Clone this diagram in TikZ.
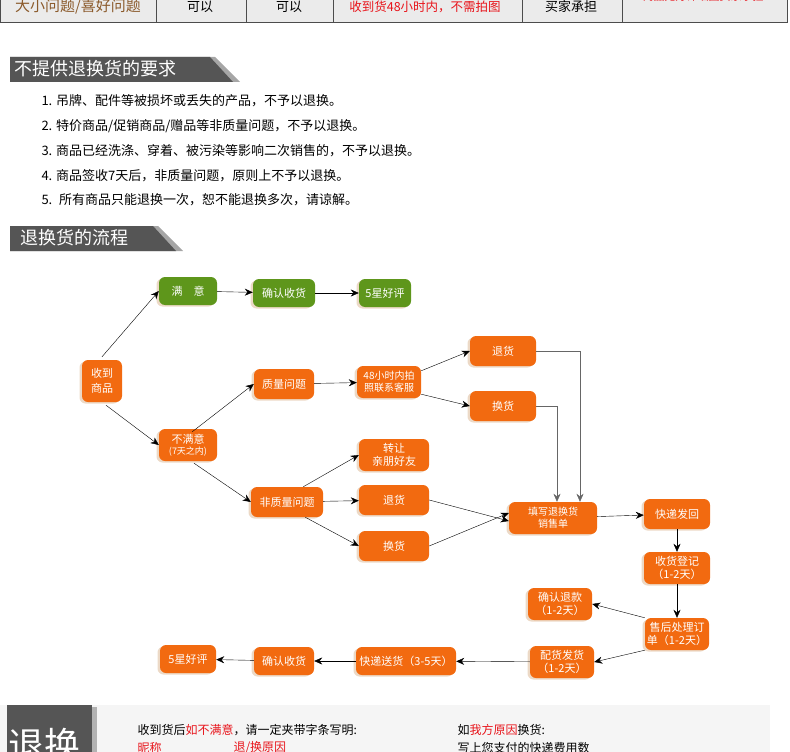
\documentclass[tikz,border=0pt]{standalone}
\usepackage{fontspec}
\setmainfont{Noto Sans CJK SC}
\usetikzlibrary{arrows.meta,shadows}
\definecolor{org}{HTML}{F26A10}
\definecolor{grn}{HTML}{5E961B}
\definecolor{ban}{HTML}{555555}
\definecolor{brn}{HTML}{8B5A2B}
\definecolor{redt}{HTML}{E8141B}
\tikzset{
 box/.style={rounded corners=6pt,fill=org,text=white,align=center,font=\fontsize{11}{13}\selectfont,inner sep=1pt,
   drop shadow={shadow xshift=-2.5pt,shadow yshift=-1.5pt,fill=brown!30,opacity=1}},
 gbox/.style={box,fill=grn},
 ar/.style={-{Stealth[length=8pt,width=7pt]},thin,black},
 gar/.style={-{Stealth[length=8pt,width=7pt]},gray!80!black,thin},
 li/.style={anchor=west,font=\fontsize{13}{14}\selectfont},
}
\begin{document}
\begin{tikzpicture}[x=1pt,y=-1pt]
\useasboundingbox (0,0) rectangle (790,752);
\clip (0,0) rectangle (790,752);
% top table
\foreach \a/\b in {0/156,156/246,246/333,333/522,522/622,622/787}{
 \draw[draw=black!70,fill=black!8] (\a,-10) rectangle (\b,22);}
\node[font=\fontsize{15}{16}\selectfont,text=brn] (c1) at (78,7) {大小问题/喜好问题};
\node[font=\fontsize{13}{14}\selectfont] (c2) at (200,7) {可以};
\node[font=\fontsize{13}{14}\selectfont] (c3) at (289,7) {可以};
\node[font=\fontsize{12.5}{14}\selectfont,text=redt] (c4) at (425,7) {收到货48小时内，不需拍图};
\node[font=\fontsize{13}{14}\selectfont] (c5) at (571,7) {买家承担};
\node[font=\fontsize{11}{12}\selectfont,text=redt] (c6) at (703,-4) {商品无好评晒图买家承担};
% headers
\fill[black!35] (10,57) -- (215,57) -- (240,82) -- (10,82) -- cycle;
\fill[ban] (10,57) -- (210,57) -- (233,82) -- (10,82) -- cycle;
\node[anchor=west,text=white,font=\fontsize{18}{19}\selectfont] (h1) at (11,69) {不提供退换货的要求};
\fill[black!35] (10,226) -- (158,226) -- (183,251) -- (10,251) -- cycle;
\fill[ban] (10,226) -- (153,226) -- (176,251) -- (10,251) -- cycle;
\node[anchor=west,text=white,font=\fontsize{18}{19}\selectfont] (h2) at (17,238) {退换货的流程};
% list
\node[li] (l1) at (38,101) {1. 吊牌、配件等被损坏或丢失的产品，不予以退换。};
\node[li] (l2) at (38,126) {2. 特价商品/促销商品/赠品等非质量问题，不予以退换。};
\node[li] (l3) at (38,151) {3. 商品已经洗涤、穿着、被污染等影响二次销售的，不予以退换。};
\node[li] (l4) at (38,176) {4. 商品签收7天后，非质量问题，原则上不予以退换。};
\node[li] (l5) at (38,200) {5.~ 所有商品只能退换一次，恕不能退换多次，请谅解。};
% flow nodes
\node[box,minimum width=40pt,minimum height=42pt,font=\fontsize{11}{15}\selectfont] (sd) at (102,381) {收到\\商品};
\node[gbox,minimum width=58pt,minimum height=28pt] (my) at (188,291) {满\quad 意};
\node[gbox,minimum width=62pt,minimum height=28pt] (qr1) at (284,293) {确认收货};
\node[gbox,minimum width=52pt,minimum height=28pt] (hp1) at (385,293) {5星好评};
\node[box,minimum width=58pt,minimum height=32pt,font=\fontsize{11}{11}\selectfont] (bmy) at (188,445) {不满意\\{\fontsize{9}{10}\selectfont (7天之内)}};
\node[box,minimum width=60pt,minimum height=30pt] (zl) at (284,384) {质量问题};
\node[box,minimum width=64pt,minimum height=32pt,font=\fontsize{10}{12}\selectfont] (h48) at (389,382) {48小时内拍\\照联系客服};
\node[box,minimum width=66pt,minimum height=30pt] (th1) at (503,351) {退货};
\node[box,minimum width=66pt,minimum height=30pt] (hh1) at (503,406) {换货};
\node[box,minimum width=70pt,minimum height=32pt,font=\fontsize{11}{12.5}\selectfont] (zr) at (394,455) {转让\\亲朋好友};
\node[box,minimum width=70pt,minimum height=30pt] (th2) at (394,500) {退货};
\node[box,minimum width=70pt,minimum height=30pt] (hh2) at (394,546) {换货};
\node[box,minimum width=72pt,minimum height=30pt] (fzl) at (287,502) {非质量问题};
\node[box,minimum width=88pt,minimum height=32pt,font=\fontsize{10}{12}\selectfont] (tx) at (553,518) {填写退换货\\销售单};
\node[box,minimum width=66pt,minimum height=30pt] (kd) at (677,514) {快递发回};
\node[box,minimum width=66pt,minimum height=32pt,font=\fontsize{11}{12.5}\selectfont] (sh) at (677,568) {收货登记\\（1-2天）};
\node[box,minimum width=64pt,minimum height=32pt,font=\fontsize{11}{12.5}\selectfont] (shcl) at (677,634) {售后处理订\\单（1-2天）};
\node[box,minimum width=64pt,minimum height=32pt,font=\fontsize{11}{12.5}\selectfont] (qrtk) at (560,604) {确认退款\\（1-2天）};
\node[box,minimum width=64pt,minimum height=32pt,font=\fontsize{11}{12.5}\selectfont] (ph) at (562,662) {配货发货\\（1-2天）};
\node[box,minimum width=100pt,minimum height=28pt] (ks) at (406,661) {快递送货（3-5天）};
\node[box,minimum width=60pt,minimum height=28pt] (qr2) at (284,661) {确认收货};
\node[box,minimum width=56pt,minimum height=28pt] (hp2) at (188,659) {5星好评};
% arrows
\draw[ar] (sd.north) ++(0,-3) -- (my.west);
\draw[ar] (my) -- (qr1);
\draw[ar] (qr1) -- (hp1);
\draw[ar] (sd.south) ++(4,3) -- (bmy.west);
\draw[ar] (bmy.north east) ++(-25,3) -- (zl.west);
\draw[ar] (bmy.south) ++(6,2) -- (fzl.west);
\draw[ar] (zl) -- (h48);
\draw[ar] (h48.north east) ++(0,5) -- (th1.west);
\draw[ar] (h48.south east) ++(0,-4) -- (hh1.west);
\draw[ar] (fzl.north east) ++(-20,0) -- (zr.west);
\draw[ar] (fzl) -- (th2);
\draw[ar] (fzl.south east) ++(-18,0) -- (hh2.west);
\draw[ar] (th2.east) -- ([yshift=-3pt]tx.west);
\draw[ar] (hh2.east) -- ([yshift=5pt]tx.west);
\draw[gar] (th1.east) -| ([xshift=27pt]tx.north);
\draw[gar] (hh1.east) -| ([xshift=4pt]tx.north);
\draw[ar] (tx) -- (kd);
\draw[ar] (kd) -- (sh);
\draw[ar] (sh) -- (shcl);
\draw[ar] (shcl.north west) -- (qrtk.east);
\draw[ar] (shcl.south west) -- (ph.east);
\draw[ar] (ph) -- (ks);
\draw[ar] (ks) -- (qr2);
\draw[ar] (qr2) -- (hp2);
% bottom panel
\fill[black!4] (0,705) rectangle (770,760);
\fill[black!30] (10,707) rectangle (97,760);
\fill[ban] (7,705) rectangle (92,760);
\node[anchor=north west,text=white,font=\fontsize{36}{38}\selectfont,inner sep=0pt] (bt) at (8,728) {退换};
\node[anchor=west,font=\fontsize{12}{13}\selectfont] (b1) at (134,730) {收到货后\textcolor{redt}{如不满意}，请一定夹带字条写明:};
\node[anchor=west,font=\fontsize{12}{13}\selectfont,text=redt] (b2) at (134,748) {昵称};
\node[anchor=west,font=\fontsize{12}{13}\selectfont,text=redt] (b3) at (230,748) {退/换原因};
\node[anchor=west,font=\fontsize{12}{13}\selectfont] (b4) at (454,730) {如\textcolor{redt}{我方原因}换货:};
\node[anchor=west,font=\fontsize{12}{13}\selectfont] (b5) at (454,748) {写上您支付的快递费用数};
\end{tikzpicture}
\end{document}
